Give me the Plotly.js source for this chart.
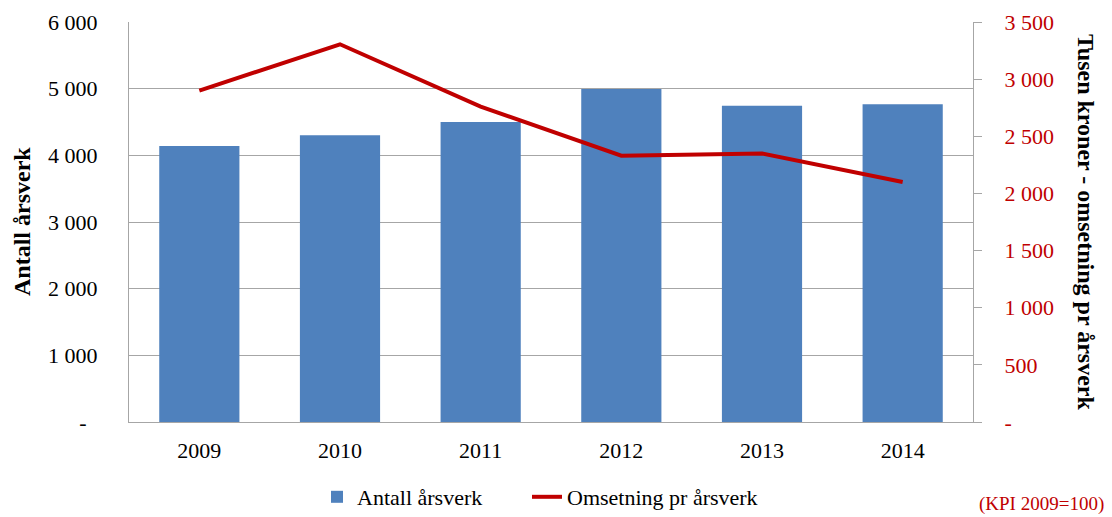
<!DOCTYPE html>
<html>
<head>
<meta charset="utf-8">
<script src="https://cdn.plot.ly/plotly-3.0.1.min.js"></script>
<style>html,body{margin:0;padding:0;background:#fff;}#chart{width:1112px;height:517px;}</style>
</head>
<body>
<div id="chart"></div>
<script>
const years = ["2009", "2010", "2011", "2012", "2013", "2014"];
const antallArsverk = [4140, 4300, 4500, 4995, 4745, 4765];
const omsetningPrArsverk = [2900, 3305, 2760, 2330, 2350, 2100];
const leftTickVals = [0, 1000, 2000, 3000, 4000, 5000, 6000];
const leftTickText = ["-\u00a0\u00a0", "1 000", "2 000", "3 000", "4 000", "5 000", "6 000"];
const rightTickVals = [0, 500, 1000, 1500, 2000, 2500, 3000, 3500];
const rightTickText = ["-", "500", "1 000", "1 500", "2 000", "2 500", "3 000", "3 500"];

const FONT = "Liberation Serif, Times New Roman, serif";
const RED = "#C00000";
const GRID = "#A6A6A6";

const traces = [
  {
    type: "bar", x: years, y: antallArsverk, name: "Antall årsverk",
    marker: {color: "#4F81BD"}, yaxis: "y", legend: "legend"
  },
  {
    type: "scatter", mode: "lines", x: years, y: omsetningPrArsverk,
    name: "Omsetning pr årsverk", yaxis: "y2", legend: "legend2",
    line: {color: RED, width: 4}
  }
];

const legendCommon = {
  orientation: "h", xanchor: "left", y: -(497 - 422) / 400, yanchor: "middle",
  font: {family: FONT, size: 22, color: "#000"}, bgcolor: "rgba(0,0,0,0)"
};

const layout = {
  width: 1112, height: 517,
  margin: {l: 129, r: 139, t: 22, b: 95, autoexpand: false},
  paper_bgcolor: "#fff", plot_bgcolor: "#fff",
  font: {family: FONT, size: 22, color: "#000"},
  bargap: 0.43,
  showlegend: true,
  legend: Object.assign({}, legendCommon, {x: (317 - 129) / 844}),
  legend2: Object.assign({}, legendCommon, {x: (527 - 129) / 844}),
  xaxis: {
    type: "category", showline: true, linecolor: GRID, linewidth: 1,
    ticks: "", showgrid: false, tickfont: {family: FONT, size: 22, color: "#000"},
    ticklabelstandoff: 9, fixedrange: true
  },
  yaxis: {
    range: [0, 6000], tickvals: leftTickVals, ticktext: leftTickText,
    showgrid: true, gridcolor: GRID, gridwidth: 1,
    showline: true, linecolor: GRID, linewidth: 1, ticks: "",
    zeroline: false, tickfont: {family: FONT, size: 22, color: "#000"},
    ticklabelstandoff: 26, fixedrange: true
  },
  yaxis2: {
    range: [0, 3500], tickvals: rightTickVals, ticktext: rightTickText,
    overlaying: "y", side: "right", showgrid: false,
    showline: true, linecolor: GRID, linewidth: 1,
    ticks: "outside", ticklen: 8, tickcolor: GRID, tickwidth: 1,
    zeroline: false, tickfont: {family: FONT, size: 22, color: RED},
    ticklabelstandoff: 18, fixedrange: true
  },
  annotations: [
    {
      text: "<b>Antall årsverk</b>", xref: "paper", yref: "paper",
      x: (22 - 129) / 844, y: 0.5, xanchor: "center", yanchor: "middle",
      textangle: -90, showarrow: false, font: {family: FONT, size: 24, color: "#000"}
    },
    {
      text: "<b>Tusen kroner - omsetning pr årsverk</b>", xref: "paper", yref: "paper",
      x: (1086 - 129) / 844, y: (422 - 222) / 400, xanchor: "center", yanchor: "middle",
      textangle: 90, showarrow: false, font: {family: FONT, size: 24, color: "#000"}
    },
    {
      text: "(KPI 2009=100)", xref: "paper", yref: "paper",
      x: (1106 - 129) / 844, y: -(504 - 422) / 400, xanchor: "right", yanchor: "middle",
      showarrow: false, font: {family: FONT, size: 19, color: RED}
    }
  ]
};

Plotly.newPlot("chart", traces, layout, {displayModeBar: false, staticPlot: true});
</script>
</body>
</html>
